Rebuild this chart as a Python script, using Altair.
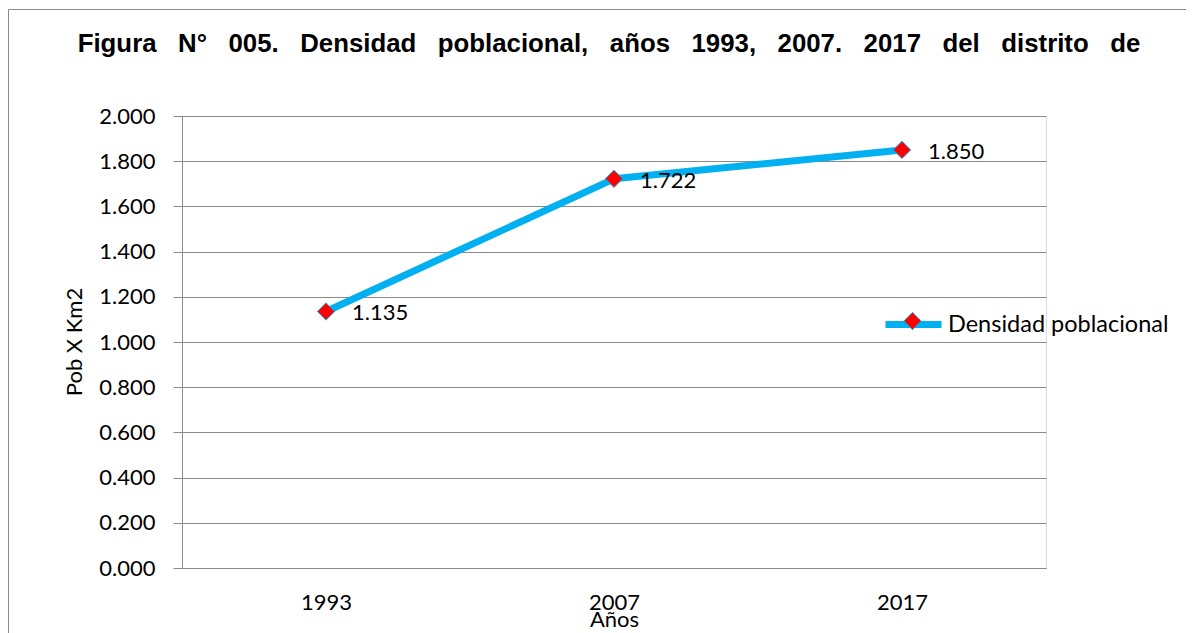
import altair as alt
import pandas as pd

# ---- data ----
years = ["1993", "2007", "2017"]
density = [1.135, 1.722, 1.850]
series_name = "Densidad poblacional"
y_ticks = [0.0, 0.2, 0.4, 0.6, 0.8, 1.0, 1.2, 1.4, 1.6, 1.8, 2.0]

title_words = ["Figura", "N°", "005.", "Densidad", "poblacional,", "años",
               "1993,", "2007.", "2017", "del", "distrito", "de"]
title_text = "\u00a0\u00a0\u00a0".join(title_words)

df = pd.DataFrame({
    "Año": years,
    "dens": density,
    "serie": [series_name] * len(years),
    "marcador": [series_name] * len(years),
})

W, H = 864, 452
PAD = {"left": 174, "top": 108, "right": 140, "bottom": 65}
GRAY = "#8a8a8a"
FONT = "Lato"

x_enc = alt.X(
    "Año:N",
    sort=years,
    scale=alt.Scale(type="point", padding=0.5),
    axis=alt.Axis(
        title="Años", labelAngle=0, ticks=False, tickSize=0, grid=False,
        labelFont=FONT, labelFontSize=22, labelColor="black",
        labelBaseline="alphabetic", labelPadding=41,
        domainColor=GRAY, domainWidth=1,
        titleFont=FONT, titleFontSize=22, titleFontWeight="normal", titleColor="black",
        titleBaseline="alphabetic", titleY=58, titleX=W / 2,
    ),
)
y_enc = alt.Y(
    "dens:Q",
    scale=alt.Scale(domain=[0, 2]),
    axis=alt.Axis(
        title="Pob X Km2", values=y_ticks, format=".3f",
        labelFont=FONT, labelFontSize=22, labelColor="black", labelPadding=18,
        tickSize=9, tickColor=GRAY, domainColor=GRAY, gridColor=GRAY, gridWidth=1,
        titleFont=FONT, titleFontSize=22, titleFontWeight="normal", titleColor="black",
        titleAngle=270, titleBaseline="alphabetic", titleAlign="center",
        titleX=-101, titleY=225.5,
    ),
)

base = alt.Chart(df)

line = base.mark_line(strokeWidth=7, strokeCap="round", strokeJoin="round").encode(
    x=x_enc, y=y_enc,
    color=alt.Color(
        "serie:N",
        scale=alt.Scale(range=["#00B0F0"]),
        legend=alt.Legend(
            title=None, orient="none", legendX=700, legendY=177, padding=0,
            symbolType="stroke", symbolSize=3136, symbolStrokeWidth=7,
            labelFont=FONT, labelFontSize=23.5, labelColor="black", labelOffset=3,
            labelLimit=400,
        ),
    ),
)

points = base.mark_point(shape="diamond", filled=True, size=300, stroke="#00B0F0",
                         strokeWidth=1, opacity=1).encode(
    x=x_enc, y=y_enc,
    fill=alt.Fill(
        "marcador:N",
        scale=alt.Scale(range=["#FF0000"]),
        legend=alt.Legend(
            title=None, orient="none", legendX=719.5, legendY=194, padding=0,
            symbolType="diamond", symbolSize=300, symbolStrokeColor="#00B0F0",
            symbolStrokeWidth=1, symbolOpacity=1,
            labelFont=FONT, labelFontSize=22, labelExpr="''", labelColor="black",
        ),
    ),
)

labels = base.mark_text(align="left", baseline="middle", dx=26, dy=2,
                        font=FONT, fontSize=22, color="black").encode(
    x=x_enc, y=y_enc, text=alt.Text("dens:Q", format=".3f"),
)

frame = alt.Chart(pd.DataFrame({"f": [0]})).mark_rect(
    fill="transparent", stroke=GRAY, strokeWidth=1
).encode(
    x=alt.value(-173.5), x2=alt.value(W + 400),
    y=alt.value(-106.5), y2=alt.value(H + 400),
)

chart = alt.layer(frame, line, points, labels).properties(
    width=W, height=H,
    autosize=alt.AutoSizeParams(type="none"),
    padding=PAD,
    title=alt.TitleParams(
        text=title_text, font="Liberation Sans", fontSize=25.8, fontWeight="bold",
        color="black", anchor="middle", frame="group", dx=-5,
        baseline="alphabetic", offset=0, dy=69,
    ),
).configure_view(stroke=None).configure(background="white")

chart.save("out.html", embed_options={"renderer": "svg", "actions": False})
